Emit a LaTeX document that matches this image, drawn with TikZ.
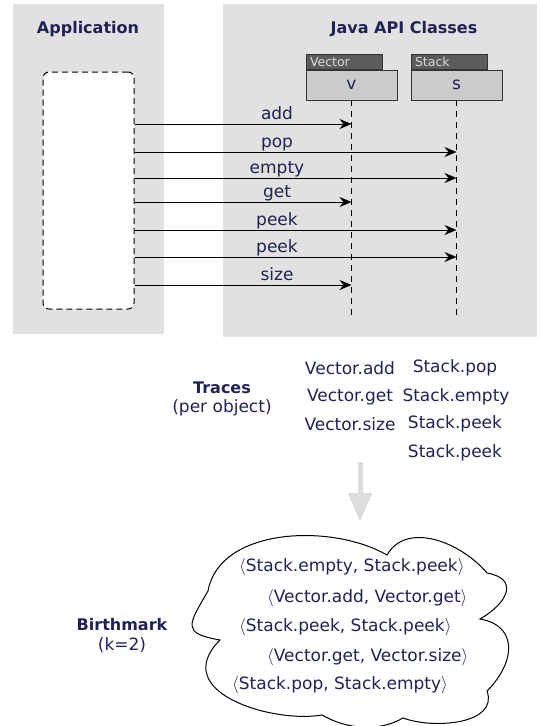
\documentclass[tikz,border=0pt]{standalone}
\usepackage{fontspec}
\setmainfont{DejaVu Sans}
\usepackage{xcolor}
\usepackage{amsmath}
\usepackage{tikz}
\usetikzlibrary{arrows.meta, positioning}

\definecolor{ink}{HTML}{1F2353}
\definecolor{panelgray}{HTML}{E1E1E1}
\definecolor{boxgray}{HTML}{CBCBCB}
\definecolor{tabgray}{HTML}{5C5C5C}
\definecolor{flowgray}{HTML}{DCDCDC}

\begin{document}
\begin{tikzpicture}[
    x=1pt, y=-1pt,
    panel/.style={
        rectangle,
        fill=panelgray,
        inner sep=0pt
    },
    title/.style={
        font=\fontsize{16}{19}\selectfont\bfseries,
        text=ink
    },
    plain/.style={
        font=\fontsize{17}{20}\selectfont,
        text=ink,
        inner sep=1pt
    },
    objbox/.style={
        rectangle, draw=black!80,
        fill=boxgray,
        minimum width=91pt,
        minimum height=30pt,
        font=\fontsize{17}{20}\selectfont,
        text=ink
    },
    tab/.style={
        rectangle, draw=black!80,
        fill=tabgray,
        text=white!85!black,
        font=\fontsize{12.5}{13}\selectfont,
        text width=68pt,
        align=left,
        inner xsep=4pt, inner ysep=0pt,
        minimum height=15pt,
        anchor=south west
    },
    caller/.style={
        rectangle, draw, fill=white,
        dash pattern=on 6pt off 4pt,
        line width=1pt,
        rounded corners=6pt,
        minimum width=91pt,
        minimum height=237pt
    },
    lifeline/.style={dash pattern=on 6pt off 5pt, line width=1pt},
    msg/.style={-{Stealth[length=12pt, width=10pt, inset=4pt]}, line width=1pt},
    flowarrow/.style={-{Triangle[length=29pt, width=23pt]}, line width=5pt, draw=flowgray},
    cloudline/.style={draw, line width=1pt, fill=white}
]
\useasboundingbox (0,0) rectangle (540,726);

% Panels
\node [panel, minimum width=151pt, minimum height=330pt] (apppanel) at (88.5,169) {};
\node [panel, minimum width=314pt, minimum height=333pt] (apipanel) at (380,170.5) {};
\node [title] (apptitle) at (88,29) {Application};
\node [title] (apititle) at (404,29) {Java API Classes};

% Caller and objects
\node [caller] (caller) at (88.5,190.5) {};
\node [objbox] (v) at (351.5,85) {v};
\node [objbox] (s) at (456.5,85) {s};
\node [tab] (vtab) at (v.north west) {Vector};
\node [tab] (stab) at (s.north west) {Stack};

% Lifelines
\draw [lifeline] (v.south) -- (v.south |- 0,315);
\draw [lifeline] (s.south) -- (s.south |- 0,315);

% Calls
\foreach \y/\tgt/\lbl [count=\i] in {124/v/add, 152/s/pop, 178/s/empty, 202/v/get,
                                     230/s/peek, 257/s/peek, 285/v/size} {
    \draw [msg] (caller.east |- 0,\y) -- (\tgt.south |- 0,\y);
    \node [plain, anchor=base] (call\i) at (277,{\y-5}) {\lbl};
}

% Traces
\node [title] (traces) at (222,388) {Traces};
\node [plain] (perobj) at (222,408) {(per object)};
\node [plain] (tv1) at (350,368) {Vector.add};
\node [plain] (tv2) at (350,397) {Vector.get};
\node [plain] (tv3) at (350,424) {Vector.size};
\node [plain] (ts1) at (455,368) {Stack.pop};
\node [plain] (ts2) at (456,397) {Stack.empty};
\node [plain] (ts3) at (455,424) {Stack.peek};
\node [plain] (ts4) at (455,453) {Stack.peek};

% Birthmark cloud
\draw [cloudline] (208,591)
    to[out=80, in=150, looseness=0.9] (387,555)
    to[out=60, in=130] (487,573)
    to[out=-10, in=30, looseness=1.8] (480,619)
    to[out=-10, in=45, looseness=1.4] (487,691)
    to[out=-70, in=-20] (403,718)
    to[out=-150, in=-30, looseness=0.9] (322,715)
    to[out=-170, in=-135, out looseness=1, in looseness=1.5] (220,640)
    to[out=170, in=-120, looseness=2] (208,591) -- cycle;
\coordinate (flow) at (360,462);
\coordinate (cloudtop) at (360,535);
\draw [flowarrow, shorten >=13pt] (flow) -- (cloudtop);

\node [title] (birth) at (122,625) {Birthmark};
\node [plain] (kval) at (122,645) {(k=2)};
\node [plain, anchor=west] (bm1) at (238,567) {$\langle$Stack.empty, Stack.peek$\rangle$};
\node [plain, anchor=west] (bm2) at (266,598) {$\langle$Vector.add, Vector.get$\rangle$};
\node [plain, anchor=west] (bm3) at (238,627) {$\langle$Stack.peek, Stack.peek$\rangle$};
\node [plain, anchor=west] (bm4) at (266,657) {$\langle$Vector.get, Vector.size$\rangle$};
\node [plain, anchor=west] (bm5) at (231,685) {$\langle$Stack.pop, Stack.empty$\rangle$};

\end{tikzpicture}
\end{document}
